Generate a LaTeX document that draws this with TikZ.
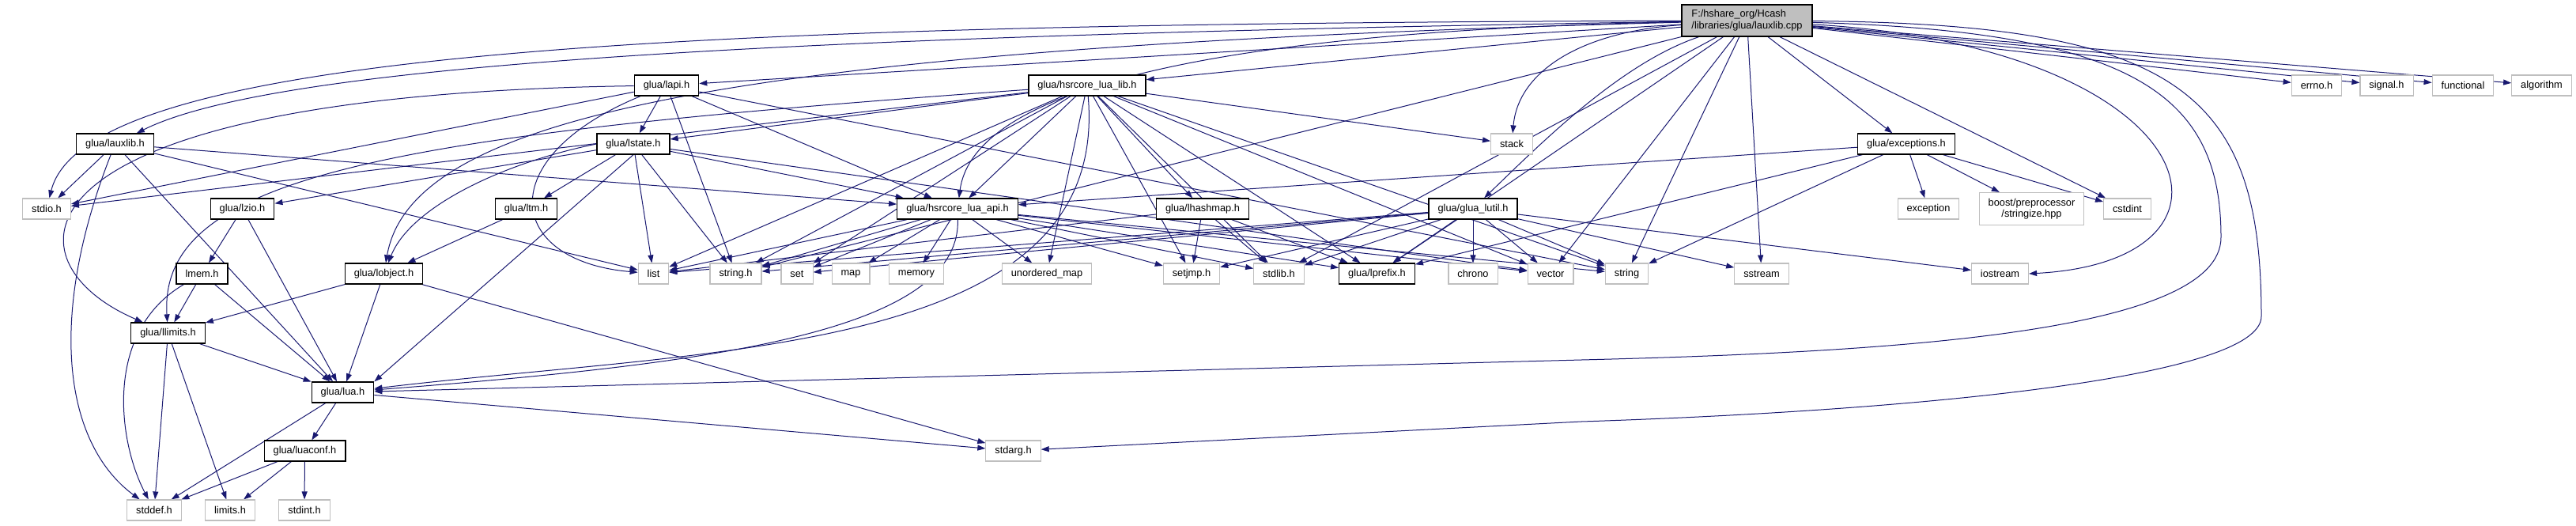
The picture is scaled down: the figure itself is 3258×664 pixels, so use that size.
\documentclass[tikz,border=0pt]{standalone}
\usepackage{fontspec}
\setmainfont{Liberation Sans}
\usetikzlibrary{arrows.meta}
\pgfdeclarelayer{edges}
\pgfsetlayers{edges,main}
\definecolor{edgeblue}{HTML}{191970}
\definecolor{boxgray}{HTML}{BFBFBF}
\tikzset{
  hdr/.style={draw=black, line width=1.3pt, fill=white, minimum height=26pt,
    inner xsep=11.5pt, inner ysep=0pt, font=\fontsize{12.8}{15}\selectfont},
  sys/.style={hdr, draw=boxgray, line width=1.1pt},
  dep/.style={draw=edgeblue, line width=1pt, -{Triangle[length=10pt,width=7pt]}},
}
\begin{document}
\begin{tikzpicture}[x=1pt,y=-1pt]
  \useasboundingbox (0,0) rectangle (3258,664);
  % the file itself
  \node[hdr, fill=boxgray, align=left, minimum width=165pt, minimum height=40pt] (root) at (2209.5,26)
    {F:/hshare\_org/Hcash\\/libraries/glua/lauxlib.cpp};
  % row 1
  \node[hdr] (lapi) at (843,108) {glua/lapi.h};
  \node[hdr] (lib) at (1375,108) {glua/hsrcore\_lua\_lib.h};
  \node[sys] (errno) at (2930,108) {errno.h};
  \node[sys] (signal) at (3018.5,108) {signal.h};
  \node[sys] (functional) at (3115,108) {functional};
  \node[sys] (algorithm) at (3214.5,108) {algorithm};
  % row 2
  \node[hdr] (lauxlib) at (145.5,182) {glua/lauxlib.h};
  \node[hdr] (lstate) at (801,182) {glua/lstate.h};
  \node[sys] (stack) at (1912,182) {stack};
  \node[hdr] (exceptions) at (2411,182) {glua/exceptions.h};
  % row 3
  \node[sys] (stdio) at (59,264) {stdio.h};
  \node[hdr] (lzio) at (306.5,264) {glua/lzio.h};
  \node[hdr] (ltm) at (665.5,264) {glua/ltm.h};
  \node[hdr] (api) at (1211,264) {glua/hsrcore\_lua\_api.h};
  \node[hdr] (lhashmap) at (1521,264) {glua/lhashmap.h};
  \node[hdr] (lutil) at (1863,264) {glua/glua\_lutil.h};
  \node[sys] (exception) at (2439,264) {exception};
  \node[sys, align=center, minimum height=41pt, font=\fontsize{12.8}{14}\selectfont] (boost) at (2569.5,264)
    {boost/preprocessor\\/stringize.hpp};
  \node[sys] (cstdint) at (2690.5,264) {cstdint};
  % row 4
  \node[hdr] (lmem) at (255.5,346) {lmem.h};
  \node[hdr] (lobject) at (485.5,346) {glua/lobject.h};
  \node[sys] (list) at (826.5,346) {list};
  \node[sys] (strh) at (930.5,346) {string.h};
  \node[sys] (set) at (1008,346) {set};
  \node[sys] (map) at (1076,346) {map};
  \node[sys] (memory) at (1159,346) {memory};
  \node[sys] (umap) at (1324,346) {unordered\_map};
  \node[sys] (setjmp) at (1507,346) {setjmp.h};
  \node[sys] (stdlib) at (1617.5,346) {stdlib.h};
  \node[hdr] (lprefix) at (1741.5,346) {glua/lprefix.h};
  \node[sys] (chrono) at (1863,346) {chrono};
  \node[sys] (vector) at (1961,346) {vector};
  \node[sys] (string) at (2057.5,346) {string};
  \node[sys] (sstream) at (2228,346) {sstream};
  \node[sys] (iostream) at (2529.5,346) {iostream};
  % rows 5 to 8
  \node[hdr] (llimits) at (212.5,421) {glua/llimits.h};
  \node[hdr] (lua) at (433.5,496) {glua/lua.h};
  \node[hdr] (luaconf) at (385.5,570) {glua/luaconf.h};
  \node[sys] (stdarg) at (1281.5,570) {stdarg.h};
  \node[sys] (stddef) at (195,645) {stddef.h};
  \node[sys] (limits) at (291,645) {limits.h};
  \node[sys] (stdint) at (385,645) {stdint.h};
  \begin{pgfonlayer}{edges}
  % straight includes
  \foreach \a/\b in {root/errno,root/signal,root/functional,root/algorithm,root/lapi,root/lib,
      root/exceptions,root/cstdint,root/lprefix,root/stdlib,root/strh,root/string,root/vector,root/sstream,
      lapi/lstate,lapi/stdio,lapi/strh,lapi/api,lapi/string,
      lib/stdio,lib/lstate,lib/api,lib/list,lib/strh,lib/set,lib/umap,lib/setjmp,lib/stdlib,
      lib/lprefix,lib/lhashmap,lib/stack,lib/vector,lib/string,
      lauxlib/stdio,lauxlib/lua,lauxlib/list,lauxlib/api,
      lstate/lzio,lstate/ltm,lstate/list,lstate/strh,lstate/api,lstate/vector,
      exceptions/api,exceptions/lprefix,exceptions/string,exceptions/exception,exceptions/boost,exceptions/cstdint,
      api/list,api/strh,api/set,api/map,api/memory,api/umap,api/setjmp,api/stdlib,api/lprefix,api/vector,api/string,
      lhashmap/list,lhashmap/setjmp,lhashmap/stdlib,lhashmap/lprefix,
      lutil/list,lutil/strh,lutil/set,lutil/setjmp,lutil/stdlib,lutil/lprefix,lutil/chrono,
      lutil/vector,lutil/string,lutil/sstream,lutil/iostream,
      lzio/lmem,lzio/lua,ltm/lobject,lmem/llimits,lmem/lua,lobject/llimits,lobject/lua,lobject/stdarg,
      llimits/lua,llimits/stddef,llimits/limits,lua/luaconf,lua/stddef,lua/stdarg,
      luaconf/stddef,luaconf/limits,luaconf/stdint}
    {\draw[dep] (\a) -- (\b);}
  % curved includes
  \draw[dep] (lstate.south) -- (lua.north east);
  \draw[dep] (lstate.west) .. controls (640,205) and (520,260) .. (lobject);
  \draw[dep] (root) .. controls (900,30) and (110,60) .. (stdio);
  \draw[dep] (root) .. controls (1000,45) and (350,80) .. (lauxlib);
  \draw[dep] (root) .. controls (900,60) and (520,150) .. (lobject);
  \draw[dep] (root) .. controls (1500,40) and (1230,120) .. (api);
  \draw[dep] (root) .. controls (2000,40) and (1920,90) .. (stack);
  \draw[dep] (root) .. controls (2050,80) and (1950,180) .. (lutil);
  \draw[dep] (root) .. controls (2790,60) and (2870,330) .. (iostream.east);
  \draw[dep] (root) .. controls (2700,40) and (2809,120) .. (2809,300)
    .. controls (2809,420) and (2400,445) .. (2000,455) -- (lua);
  \draw[dep] (root) .. controls (2760,30) and (2860,120) .. (2860,400)
    .. controls (2860,480) and (2400,520) .. (2000,533) -- (stdarg);
  \draw[dep] (lapi) .. controls (0,120) and (0,330) .. (llimits);
  \draw[dep] (lib) .. controls (500,170) and (200,220) .. (llimits);
  \draw[dep] (lauxlib) .. controls (60,400) and (80,560) .. (stddef);
  \draw[dep] (lmem) .. controls (130,420) and (150,560) .. (stddef);
  \draw[dep] (lapi) .. controls (620,200) and (640,330) .. (list);
  \draw[dep] (api) .. controls (1215,420) and (900,460) .. (lua);
  \draw[dep] (lib) .. controls (1405,450) and (900,440) .. (lua);
  \end{pgfonlayer}
\end{tikzpicture}
\end{document}
